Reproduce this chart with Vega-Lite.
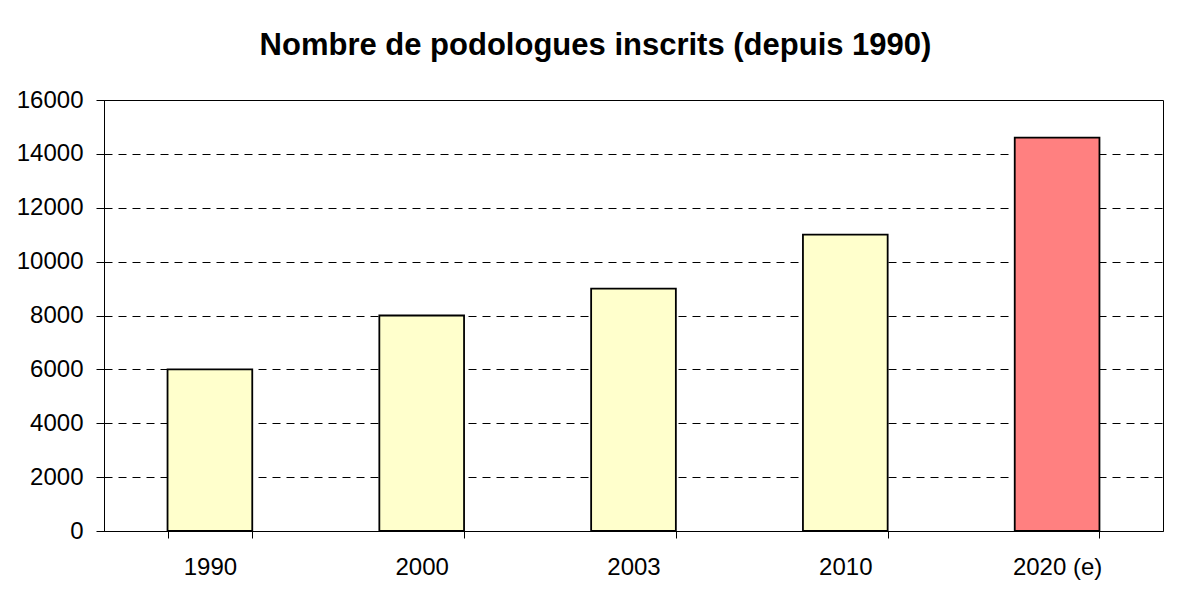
{
  "$schema": "https://vega.github.io/schema/vega-lite/v6.json",
  "autosize": {"type": "none"},
  "width": 1059,
  "height": 431,
  "padding": {"left": 104, "top": 100, "right": 28, "bottom": 61},
  "background": "white",
  "title": {
    "text": "Nombre de podologues inscrits (depuis 1990)",
    "font": "Liberation Sans",
    "fontSize": 31,
    "fontWeight": "bold",
    "color": "#000",
    "anchor": "middle",
    "dx": -38,
    "offset": 26
  },
  "data": {
    "values": [
      {"annee": "1990", "inscrits": 6000, "type": "reel"},
      {"annee": "2000", "inscrits": 8000, "type": "reel"},
      {"annee": "2003", "inscrits": 9000, "type": "reel"},
      {"annee": "2010", "inscrits": 11000, "type": "reel"},
      {"annee": "2020 (e)", "inscrits": 14600, "type": "estime"}
    ]
  },
  "mark": {"type": "bar", "stroke": "#000", "strokeWidth": 1.8},
  "encoding": {
    "x": {
      "field": "annee",
      "type": "nominal",
      "sort": null,
      "scale": {"paddingInner": 0.6, "paddingOuter": 0.3},
      "axis": {
        "title": null,
        "labelAngle": 0,
        "tickBand": "extent",
        "tickSize": 7,
        "tickColor": "#000",
        "domainColor": "#000",
        "labelPadding": 17,
        "labelFontSize": 24,
        "labelFont": "Liberation Sans",
        "labelColor": "#000"
      }
    },
    "y": {
      "field": "inscrits",
      "type": "quantitative",
      "scale": {"domain": [0, 16000], "nice": false},
      "axis": {
        "title": null,
        "values": [0, 2000, 4000, 6000, 8000, 10000, 12000, 14000, 16000],
        "format": "d",
        "tickSize": 8,
        "tickColor": "#000",
        "domainColor": "#000",
        "labelPadding": 13,
        "labelFontSize": 24,
        "labelFont": "Liberation Sans",
        "labelColor": "#000",
        "grid": true,
        "gridColor": "#000",
        "gridDash": [8, 6],
        "gridWidth": 1
      }
    },
    "fill": {
      "field": "type",
      "type": "nominal",
      "scale": {"domain": ["reel", "estime"], "range": ["#FFFFCC", "#FF8080"]},
      "legend": null
    }
  },
  "config": {
    "view": {"stroke": "#000", "strokeWidth": 1}
  }
}
